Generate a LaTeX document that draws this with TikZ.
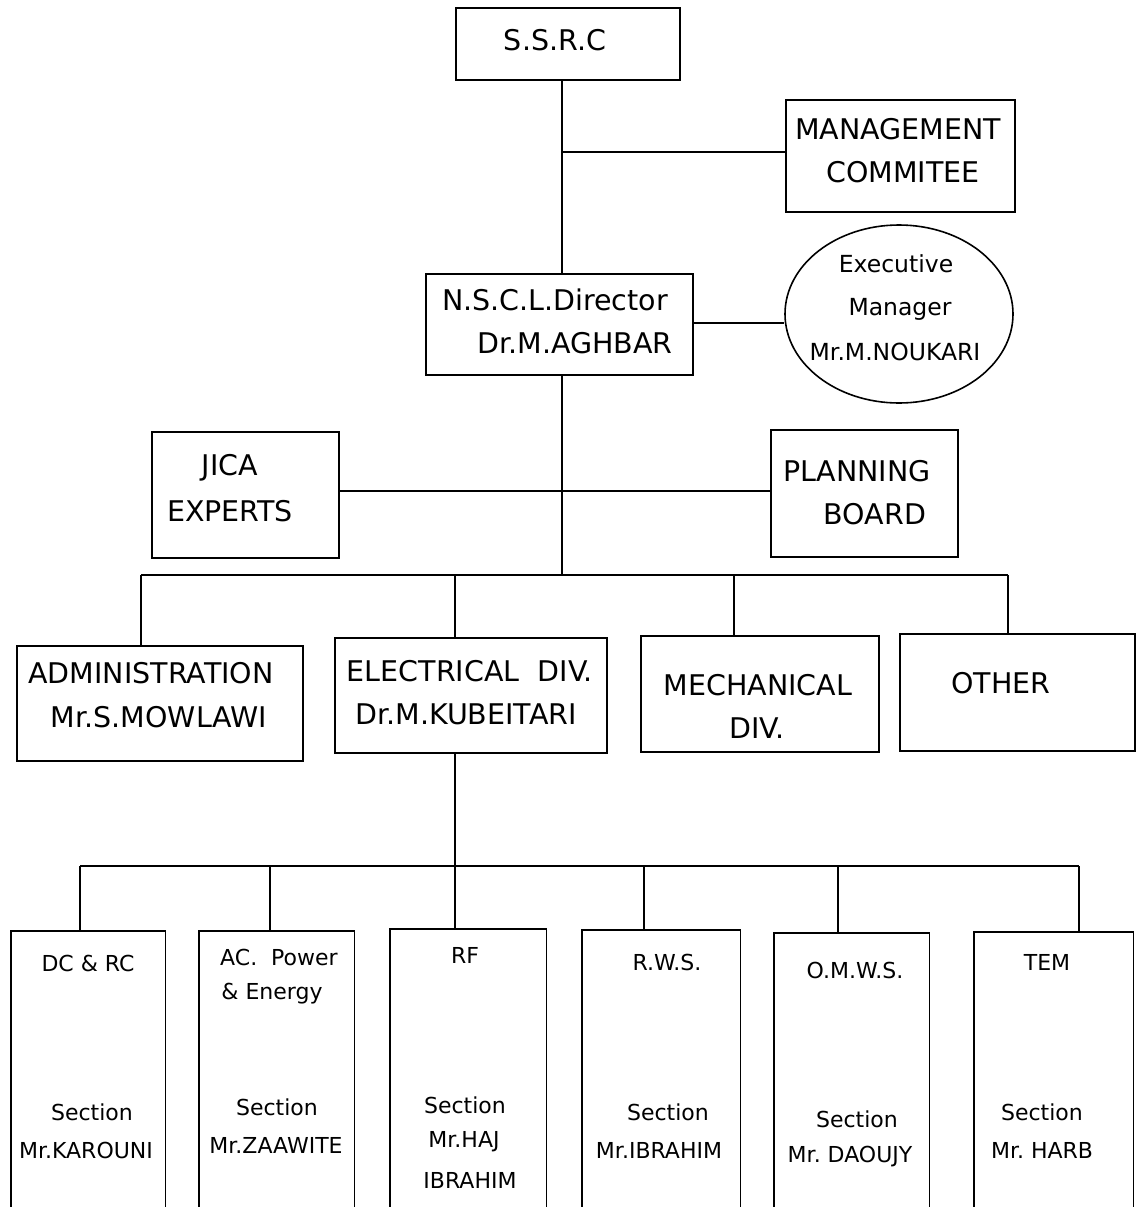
\documentclass[tikz,border=0pt]{standalone}
\usepackage{fontspec}
\setmainfont{DejaVu Sans}
\usetikzlibrary{shapes.geometric}
\newcommand{\mybox}[5]{\node[box, minimum width=#4pt, minimum height=#5pt] (#1) at (#2,#3) {};}
\begin{document}
\begin{tikzpicture}[x=1pt,y=-1pt,
  box/.style={draw, line width=1.6pt, inner sep=0pt, anchor=north west},
  obox/.style={draw=none, inner sep=0pt, anchor=north west},
  side/.style={line width=1.6pt},
  conn/.style={line width=1.6pt},
  big/.style={font=\fontsize{28.5}{31}\selectfont, inner sep=0pt},
  mid/.style={font=\fontsize{23.5}{26}\selectfont, inner sep=0pt},
  sml/.style={font=\fontsize{22}{25}\selectfont, inner sep=0pt}]
\useasboundingbox (0,0) rectangle (1135,1207);
\fill[white] (0,0) rectangle (1135,1207);
% top boxes
\mybox{ssrc}{455}{7}{224}{72}
\mybox{mgmt}{785}{99}{229}{112}
\mybox{nscl}{425}{273}{267}{101}
\node[draw, ellipse, line width=1.6pt, minimum width=228pt, minimum height=178pt, inner sep=0pt] (exec) at (899,314) {};
\mybox{jica}{151}{431}{187}{126}
\mybox{plan}{770}{429}{187}{127}
\mybox{admin}{16}{645}{286}{115}
\mybox{elec}{334}{637}{272}{115}
\mybox{mech}{640}{635}{238}{116}
\mybox{other}{899}{633}{235}{117}
% bottom open boxes
\node[obox, minimum width=154pt, minimum height=276pt] (dc) at (11,931) {};
\node[obox, minimum width=155pt, minimum height=276pt] (ac) at (199,931) {};
\node[obox, minimum width=156pt, minimum height=278pt] (rf) at (390,929) {};
\node[obox, minimum width=158pt, minimum height=277pt] (rws) at (582,930) {};
\node[obox, minimum width=155pt, minimum height=274pt] (omws) at (774,933) {};
\node[obox, minimum width=159pt, minimum height=275pt] (tem) at (974,932) {};
\foreach \b in {dc,ac,rf,rws,omws,tem}
  \draw[side] (\b.south west) -- (\b.north west) -- (\b.north east) -- (\b.south east);
% texts
\node[big] (t1) at (555,40) {S.S.R.C};
\node[big] (t2) at (898,129) {MANAGEMENT};
\node[big] (t3) at (903,172) {COMMITEE};
\node[big] (t4) at (555,300) {N.S.C.L.Director};
\node[big] (t5) at (575,343) {Dr.M.AGHBAR};
\node[mid] (t6) at (896,264) {Executive};
\node[mid] (t7) at (900,309) {Manager};
\node[mid] (t8) at (895,352) {Mr.M.NOUKARI};
\node[big] (t9) at (230,468) {JICA};
\node[big] (t10) at (230,511) {EXPERTS};
\node[big] (t11) at (857,471) {PLANNING};
\node[big] (t12) at (875,514) {BOARD};
\node[big] (t13) at (151,673) {ADMINISTRATION};
\node[big] (t14) at (159,717) {Mr.S.MOWLAWI};
\node[big] (t15) at (470,671) {ELECTRICAL\ \ DIV.};
\node[big] (t16) at (466,714) {Dr.M.KUBEITARI};
\node[big] (t17) at (758,685) {MECHANICAL};
\node[big] (t18) at (757,728) {DIV.};
\node[big] (t19) at (1001,683) {OTHER};
\node[sml] (u1) at (88,963) {DC \& RC};
\node[sml] (u2) at (92,1112) {Section};
\node[sml] (u3) at (86,1150) {Mr.KAROUNI};
\node[sml] (u4) at (279,957) {AC.\ \ Power};
\node[sml] (u5) at (272,994) {\& Energy};
\node[sml] (u6) at (277,1107) {Section};
\node[sml] (u7) at (276,1145) {Mr.ZAAWITE};
\node[sml] (u8) at (465,955) {RF};
\node[sml] (u9) at (465,1105) {Section};
\node[sml] (u10) at (464,1142) {Mr.HAJ};
\node[sml] (u11) at (470,1180) {IBRAHIM};
\node[sml] (u12) at (667,962) {R.W.S.};
\node[sml] (u13) at (668,1112) {Section};
\node[sml] (u14) at (659,1150) {Mr.IBRAHIM};
\node[sml] (u15) at (855,970) {O.M.W.S.};
\node[sml] (u16) at (857,1119) {Section};
\node[sml] (u17) at (850,1157) {Mr.\ DAOUJY};
\node[sml] (u18) at (1047,962) {TEM};
\node[sml] (u19) at (1042,1112) {Section};
\node[sml] (u20) at (1042,1150) {Mr.\ HARB};
% connectors
\coordinate (j1) at (562,152);
\coordinate (j2) at (562,323);
\coordinate (j3) at (562,491);
\coordinate (b1) at (562,575);
\draw[conn] (j1 |- ssrc.south) -- (j1 |- nscl.north);
\draw[conn] (j1) -- (j1 -| mgmt.west);
\draw[conn] (j2 -| nscl.east) -- (j2 -| exec.west);
\draw[conn] (j1 |- nscl.south) -- (b1);
\draw[conn] (j3 -| jica.east) -- (j3 -| plan.west);
\coordinate (d1) at (141,575);
\coordinate (d2) at (455,575);
\coordinate (d3) at (734,575);
\coordinate (d4) at (1008,575);
\draw[conn] (d1) -- (d4);
\draw[conn] (d1) -- (d1 |- admin.north);
\draw[conn] (d2) -- (d2 |- elec.north);
\draw[conn] (d3) -- (d3 |- mech.north);
\draw[conn] (d4) -- (d4 |- other.north);
\coordinate (e0) at (455,866);
\draw[conn] (e0 |- elec.south) -- (e0);
\coordinate (e1) at (80,866);
\coordinate (e2) at (270,866);
\coordinate (e3) at (455,866);
\coordinate (e4) at (644,866);
\coordinate (e5) at (838,866);
\coordinate (e6) at (1079,866);
\draw[conn] (e1) -- (e6);
\draw[conn] (e1) -- (e1 |- dc.north);
\draw[conn] (e2) -- (e2 |- ac.north);
\draw[conn] (e3) -- (e3 |- rf.north);
\draw[conn] (e4) -- (e4 |- rws.north);
\draw[conn] (e5) -- (e5 |- omws.north);
\draw[conn] (e6) -- (e6 |- tem.north);
\end{tikzpicture}
\end{document}
